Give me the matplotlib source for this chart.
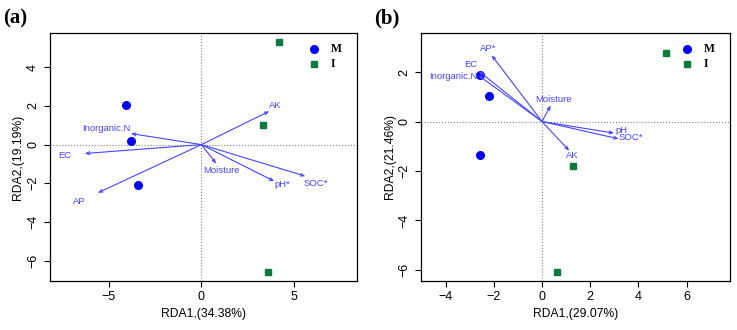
"""
plot.py

Gráfico RDA (a) y (b) con vectores ambientales.
"""

import matplotlib
matplotlib.use("Agg")
import matplotlib.pyplot as plt

plt.rcParams["font.family"] = ["Liberation Sans", "DejaVu Sans"]

# ---- datos panel (a) ----
a_m_x = [-4.06, -3.79, -3.42]
a_m_y = [2.03, 0.17, -2.06]
a_i_x = [4.19, 3.30, 3.57]
a_i_y = [5.27, 1.03, -6.56]

a_vars = ["AK", "Inorganic.N", "EC", "AP", "Moisture", "pH*", "SOC*"]
a_tip_x = [3.66, -3.81, -6.30, -5.59, 0.80, 3.93, 5.61]
a_tip_y = [1.72, 0.57, -0.46, -2.49, -0.98, -1.89, -1.63]
a_lab_x = [3.97, -5.12, -7.36, -6.61, 1.06, 4.39, 6.16]
a_lab_y = [2.03, 0.81, -0.55, -2.96, -1.36, -2.06, -2.01]

# ---- datos panel (b) ----
b_m_x = [-2.57, -2.21, -2.56]
b_m_y = [1.89, 1.03, -1.36]
b_i_x = [5.13, 1.29, 0.62]
b_i_y = [2.78, -1.81, -6.07]

b_vars = ["AP*", "EC", "Inorganic.N", "Moisture", "pH", "SOC*", "AK"]
b_tip_x = [-2.09, -2.63, -2.63, 0.36, 2.99, 3.18, 1.13]
b_tip_y = [2.68, 2.04, 1.86, 0.65, -0.47, -0.70, -1.18]
b_lab_x = [-2.23, -2.95, -3.67, 0.48, 3.28, 3.69, 1.27]
b_lab_y = [2.95, 2.32, 1.84, 0.88, -0.36, -0.66, -1.39]

azul = "#0000F5"
verde = "#0B7A3B"
flecha = "#4646FF"


def panel(ax, mx, my, ix, iy, nombres, tx, ty, lx, ly,
          xlim, ylim, xt, yt, xlab, ylab, letra):
    ax.axhline(0, color="gray", ls=":", lw=0.8, zorder=0)
    ax.axvline(0, color="gray", ls=":", lw=0.8, zorder=0)

    ax.plot(mx, my, "o", color=azul, ms=5.5, ls="none")
    ax.plot(ix, iy, "s", color=verde, ms=4.8, ls="none")

    for n, x, y, x2, y2 in zip(nombres, tx, ty, lx, ly):
        ax.annotate("", xy=(x, y), xytext=(0, 0),
                    arrowprops=dict(arrowstyle="->,head_length=0.25,head_width=0.1",
                                    color=flecha, lw=0.8,
                                    shrinkA=0, shrinkB=0))
        ax.text(x2, y2, n, color=flecha, fontsize=6.8,
                ha="center", va="center")

    ax.set_xlim(xlim)
    ax.set_ylim(ylim)
    ax.set_xticks(xt)
    ax.set_yticks(yt)
    ax.set_xticklabels([str(v).replace("-", "\u2212") for v in xt])
    ax.set_yticklabels([str(v).replace("-", "\u2212") for v in yt],
                       rotation=90, va="center")
    ax.tick_params(direction="out", length=4, width=0.8,
                   labelsize=9, colors="black")
    ax.set_xlabel(xlab, fontsize=8.7, labelpad=3)
    ax.set_ylabel(ylab, fontsize=8.7, labelpad=2)
    for s in ax.spines.values():
        s.set_linewidth(0.9)

    # leyenda
    ax.plot([0.86], [0.935], "o", color=azul, ms=5.5, transform=ax.transAxes,
            clip_on=False)
    ax.plot([0.86], [0.875], "s", color=verde, ms=4.8, transform=ax.transAxes,
            clip_on=False)
    ax.text(0.915, 0.935, "M", transform=ax.transAxes, fontsize=8.5,
            family="Liberation Serif", weight="bold", va="center")
    ax.text(0.915, 0.875, "I", transform=ax.transAxes, fontsize=8.5,
            family="Liberation Serif", weight="bold", va="center")

    ax.text(-0.15, 1.02, letra, transform=ax.transAxes, fontsize=15,
            family="Liberation Serif", weight="bold", va="bottom")


fig = plt.figure(figsize=(7.37, 3.30), dpi=100)
ax1 = fig.add_axes([0.0672, 0.1485, 0.4172, 0.7515])
ax2 = fig.add_axes([0.5712, 0.1485, 0.4193, 0.7515])

panel(ax1, a_m_x, a_m_y, a_i_x, a_i_y, a_vars, a_tip_x, a_tip_y,
      a_lab_x, a_lab_y, (-8.2, 8.4), (-7.04, 5.76),
      [-5, 0, 5], [-6, -4, -2, 0, 2, 4],
      "RDA1,(34.38%)", "RDA2,(19.19%)", "(a)")

panel(ax2, b_m_x, b_m_y, b_i_x, b_i_y, b_vars, b_tip_x, b_tip_y,
      b_lab_x, b_lab_y, (-5.02, 7.8), (-6.45, 3.58),
      [-4, -2, 0, 2, 4, 6], [-6, -4, -2, 0, 2],
      "RDA1,(29.07%)", "RDA2,(21.46%)", "(b)")

plt.savefig("out.png", dpi=100)
plt.close()
